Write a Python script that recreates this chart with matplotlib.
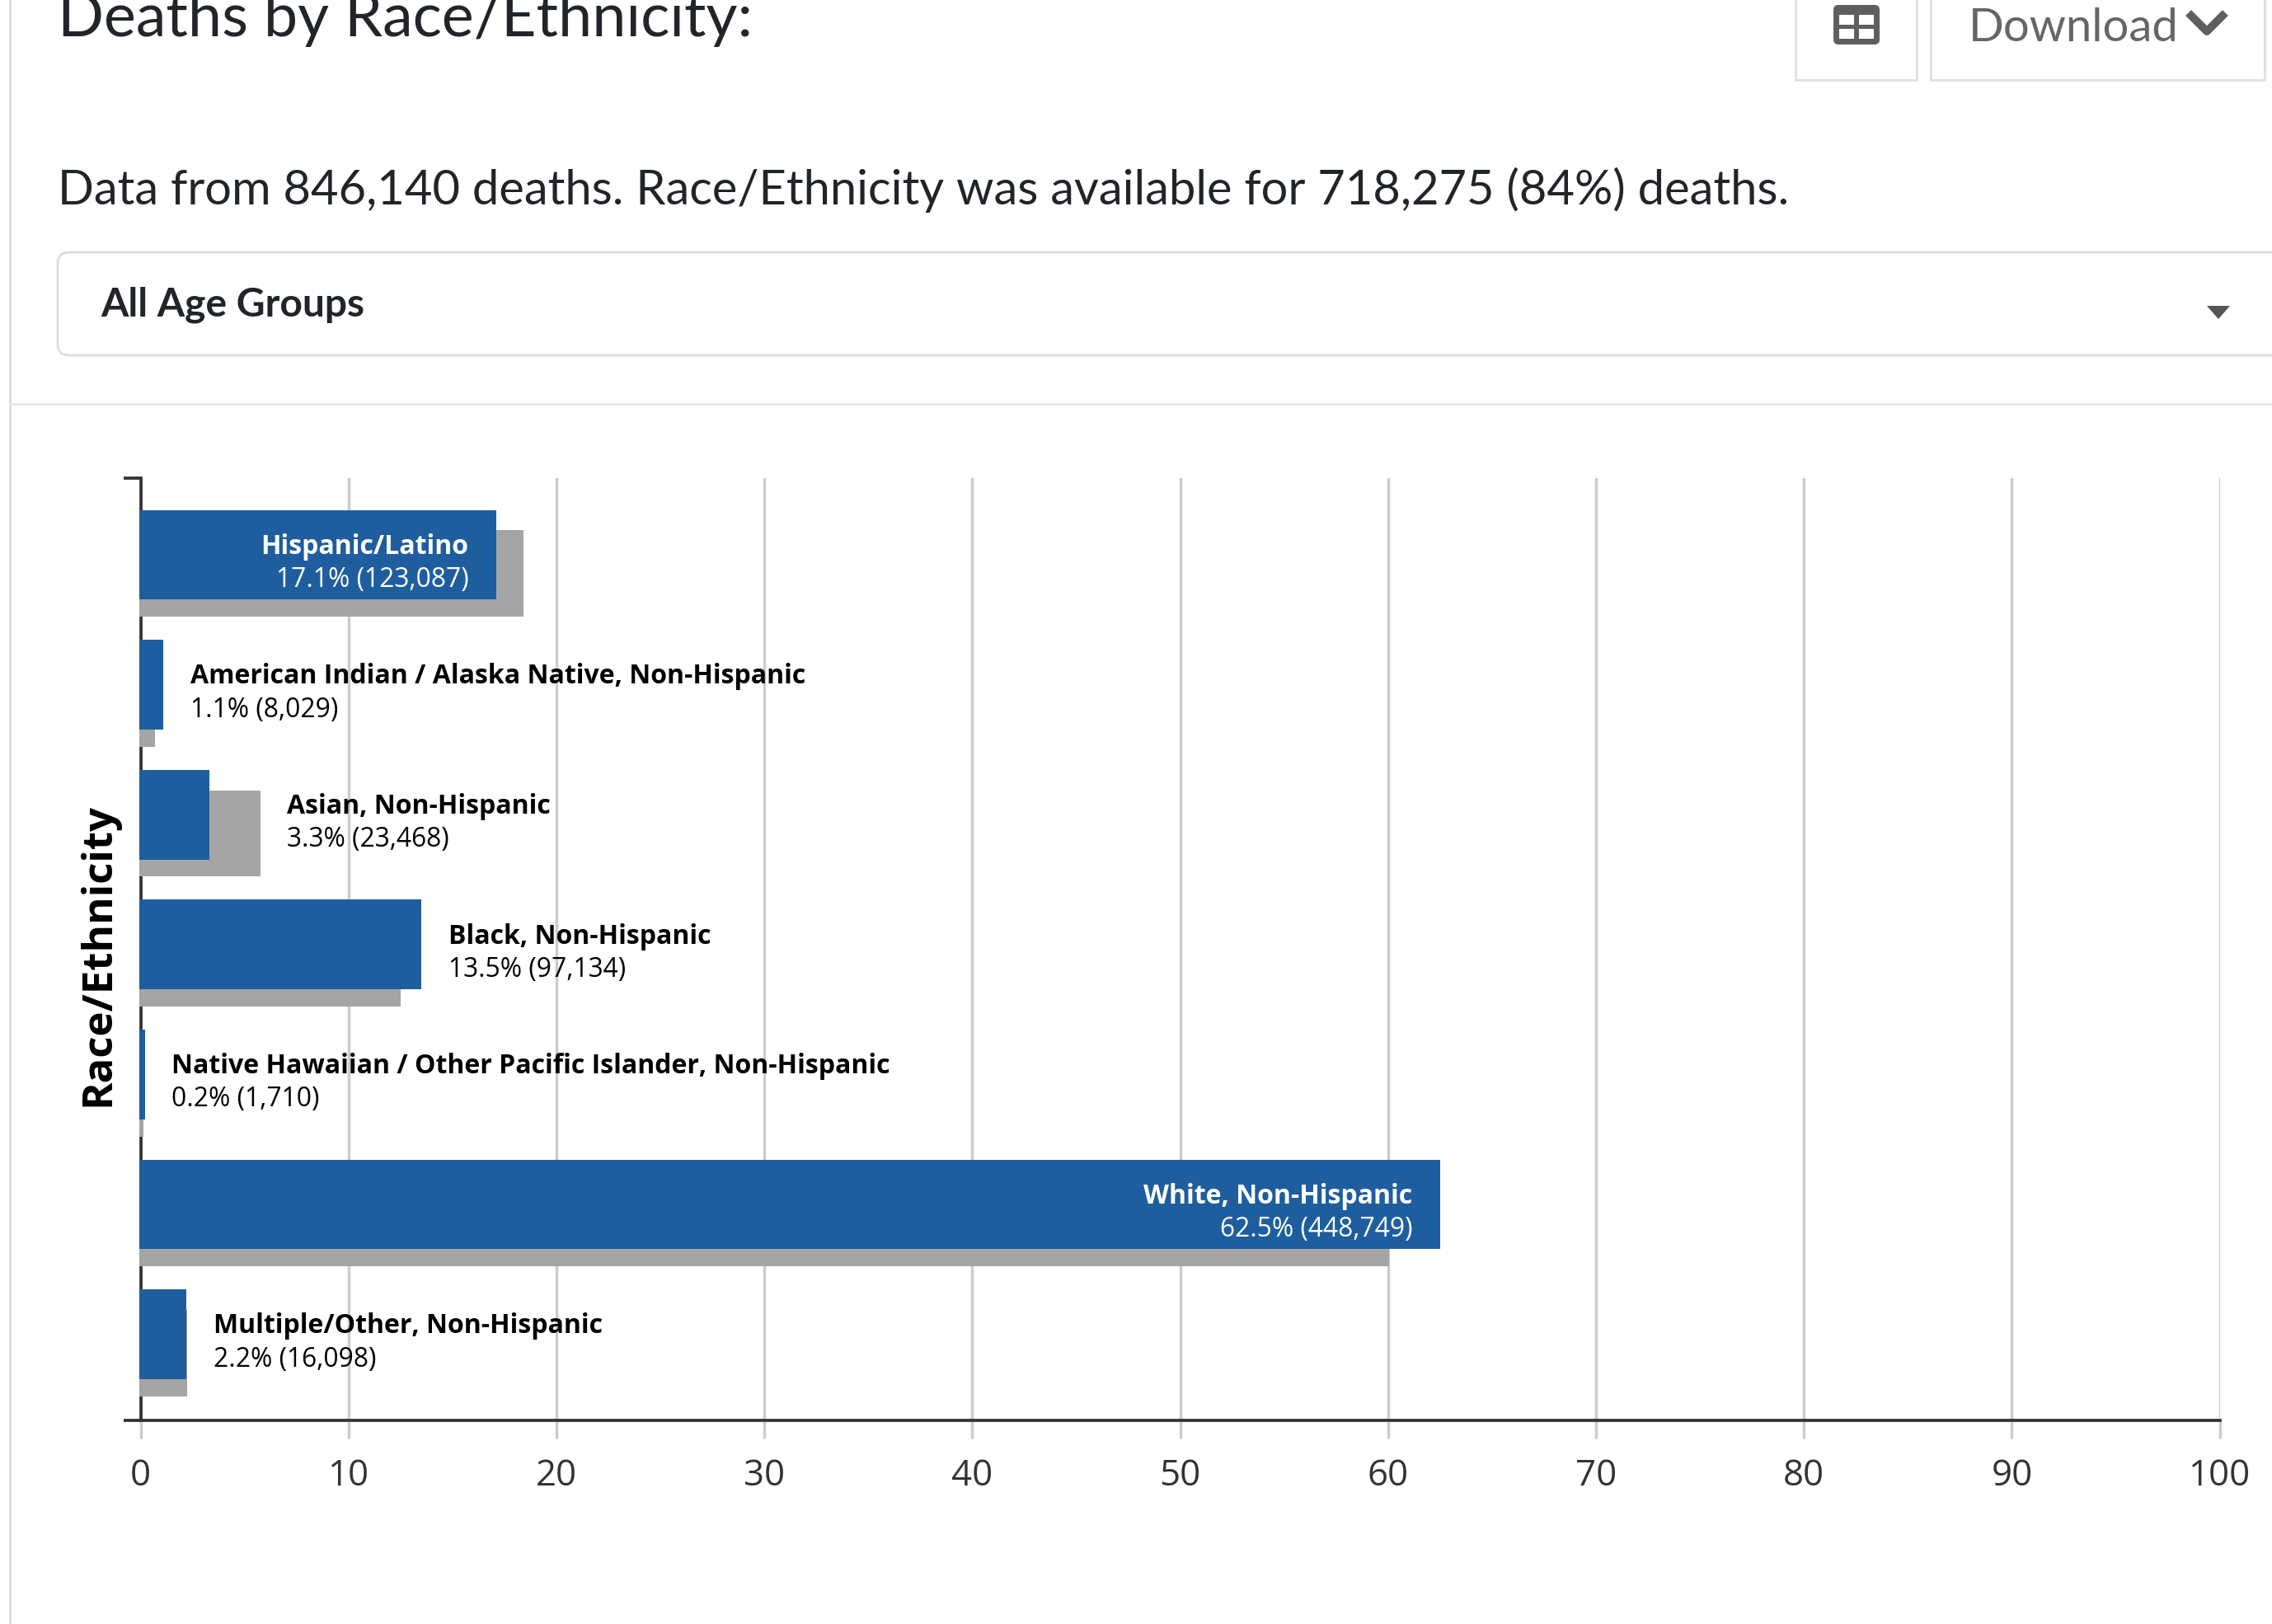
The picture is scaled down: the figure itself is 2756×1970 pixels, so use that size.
import matplotlib as mpl
mpl.use('Agg')
import matplotlib.pyplot as plt
from matplotlib.patches import FancyBboxPatch, Polygon, Rectangle

categories = ['Hispanic/Latino', 'American Indian / Alaska Native, Non-Hispanic',
              'Asian, Non-Hispanic', 'Black, Non-Hispanic',
              'Native Hawaiian / Other Pacific Islander, Non-Hispanic',
              'White, Non-Hispanic', 'Multiple/Other, Non-Hispanic']
death_pct = [17.1, 1.1, 3.3, 13.5, 0.2, 62.5, 2.2]
death_counts = ['123,087', '8,029', '23,468', '97,134', '1,710', '448,749', '16,098']
population_pct = [18.4, 0.7, 5.75, 12.5, 0.15, 60.05, 2.22]
xticks = [0, 10, 20, 30, 40, 50, 60, 70, 80, 90, 100]
labels_inside = ['Hispanic/Latino', 'White, Non-Hispanic']

BLUE = '#1f5e9e'
GREY = '#a5a5a5'
W, H = 2756, 1970
OS = 'Open Sans'

fig = plt.figure(figsize=(W / 100, H / 100), dpi=100)

# page furniture, in pixels
ui = fig.add_axes([0, 0, 1, 1])
ui.set_xlim(0, W)
ui.set_ylim(H, 0)
ui.axis('off')

ui.plot([12, 12], [0, H], color='#dcdcdc', lw=2)
ui.plot([12, W], [490, 490], color='#e6e6e6', lw=2)
ui.add_patch(FancyBboxPatch((70, 306), 2720, 125, boxstyle='round,pad=0,rounding_size=14',
                            fc='white', ec='#dddddd', lw=2))
ui.add_patch(Polygon([[2677, 371], [2705, 371], [2691, 387]], fc='#555555', ec='none'))

for x0, x1 in [(2178, 2325), (2342, 2747)]:
    ui.plot([x0, x0, x1, x1], [0, 97, 97, 0], color='#e2e2e2', lw=2.2)

# table icon
ui.add_patch(FancyBboxPatch((2224, 6), 56, 48, boxstyle='round,pad=0,rounding_size=6',
                            fc='#5f5f5f', ec='none'))
for cx in (2231, 2255):
    for cy in (18, 35):
        ui.add_patch(Rectangle((cx, cy), 18, 12, fc='white', ec='none'))

ui.plot([2658, 2677, 2696], [19, 38, 19], color='#5f5f5f', lw=7)

ui.text(70, 44, 'Deaths by Race/Ethnicity:', family='Lato', fontsize=53, color='#212529',
        va='baseline')
ui.text(2388, 50, 'Download', family='Lato', fontsize=40.5, color='#666666', va='baseline')
ui.text(70, 230, 'Data from 846,140 deaths. Race/Ethnicity was available for 718,275 (84%) deaths.',
        family='Lato', fontsize=41.7, color='#212529', va='center')
ui.text(122, 370, 'All Age Groups', family='Lato', fontsize=34.6, fontweight='bold',
        color='#212529', va='center')

# chart
ax = fig.add_axes([170.6 / W, 1 - 1723 / H, 2522 / W, 1143 / H])
ax.patch.set_alpha(0)
ypos = list(range(len(categories)))
bar_left = -0.07
ax.barh([y + 0.145 for y in ypos], [v - bar_left for v in population_pct], left=bar_left,
        height=0.665, color=GREY, zorder=2, clip_on=False)
ax.barh(ypos, [v - bar_left for v in death_pct], left=bar_left, height=0.69, color=BLUE,
        zorder=3, clip_on=False)

ax.set_xlim(0, 100)
ax.set_ylim(6.663, -0.59)
ax.set_xticks(xticks)
ax.set_yticks([-0.59, 6.663])
ax.set_yticklabels([])
ax.grid(axis='x', color='#cccccc', lw=2.5)
ax.tick_params(axis='x', length=16, width=2.5, color='#cccccc', labelsize=31.5,
               labelcolor='#333333', pad=17)
ax.tick_params(axis='y', length=15, width=2.7, color='#333333')
for lab in ax.get_xticklabels():
    lab.set_family(OS)
for side in ('top', 'right'):
    ax.spines[side].set_visible(False)
for side in ('left', 'bottom'):
    ax.spines[side].set_color('#333333')
    ax.spines[side].set_linewidth(2.7)
ax.spines['left'].set_zorder(1.8)
ax.spines['bottom'].set_zorder(4)

ax.set_ylabel('Race/Ethnicity', family=OS, fontsize=36.7, fontweight='bold', color='black',
              va='center')
ax.yaxis.set_label_coords(-0.0203, 0.4945)

# two-line labels beside or inside each bar
for y, name, pct, count, pop in zip(ypos, categories, death_pct, death_counts, population_pct):
    inside = name in labels_inside
    anchor = pct if inside else max(pct, pop)
    dx = -24 if inside else 23.5
    ha = 'right' if inside else 'left'
    col = 'white' if inside else 'black'
    ax.annotate(name, (anchor, y), xytext=(dx, 7), textcoords='offset points', family=OS,
                fontsize=23, fontweight='bold', color=col, ha=ha, va='center', zorder=5)
    ax.annotate(f'{pct}% ({count})', (anchor, y), xytext=(dx, -22), textcoords='offset points',
                family=OS, fontsize=22.9, color=col, ha=ha, va='center', zorder=5)

fig.savefig('out.png', dpi=100)
plt.close(fig)
